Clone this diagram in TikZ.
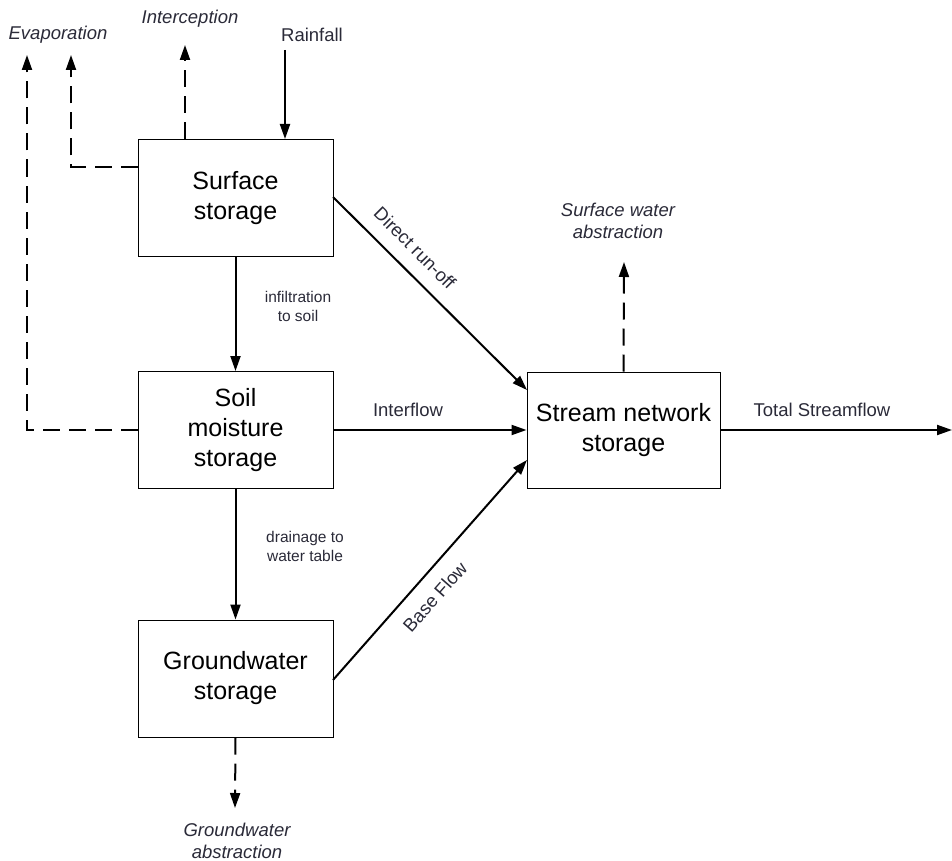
\documentclass[tikz,border=0pt]{standalone}
\usepackage{fontspec}
\setmainfont{Liberation Sans}
\usetikzlibrary{arrows.meta}
\definecolor{txt}{HTML}{2A2A38}
\begin{document}
\begin{tikzpicture}[x=1pt,y=-1pt,
  box/.style={draw,line width=1pt,minimum width=195pt,minimum height=117pt,inner sep=0pt,align=center,font=\fontsize{25}{30}\selectfont},
  flow/.style={line width=2pt,-{Triangle[length=15pt,width=10pt]}},
  dflow/.style={flow,dash pattern=on 17pt off 9pt},
  lbl/.style={text=txt,font=\fontsize{18.5}{22}\selectfont,align=center,inner sep=0pt},
  ilbl/.style={lbl,font=\fontsize{18.5}{22}\selectfont\itshape},
  slbl/.style={lbl,font=\fontsize{15.5}{19}\selectfont}]
\useasboundingbox (0,0) rectangle (952,861);
\node[box] (surf) at (235.5,198) {Surface\\storage};
\node[box] (soil) at (235.5,430) {Soil\\moisture\\storage};
\node[box] (gw) at (235.5,678.5) {Groundwater\\storage};
\node[box,minimum width=193pt,minimum height=116pt] (stream) at (623.5,430) {Stream network\\storage};
% labels
\node[ilbl] (evap) at (58,35) {Evaporation};
\node[ilbl] (inter) at (190,19) {Interception};
\node[lbl] (rain) at (312,35) {Rainfall};
\node[ilbl] (swa) at (618,221) {Surface water\\abstraction};
\node[ilbl] (gwa) at (237,841) {Groundwater\\abstraction};
\node[lbl] (total) at (822,410) {Total Streamflow};
\node[lbl] (interflow) at (408,410) {Interflow};
\node[slbl] (infil) at (298,306) {infiltration\\to soil};
\node[slbl] (drain) at (305,546) {drainage to\\water table};
\node[lbl,rotate=-45] (dro) at (415,248) {Direct run-off};
\node[lbl,rotate=48.6] (bf) at (435,597) {Base Flow};
% coordinates
\coordinate (rainS) at (285,50);
\coordinate (interE) at (185,45);
\coordinate (evE1) at (71,55);
\coordinate (evE2) at (27,55);
\coordinate (swaE) at (624,262);
\coordinate (gwaE) at (235,808);
\coordinate (outE) at (952,430);
% connectors
\draw[flow] (rainS) -- (285,139);
\draw[dflow] (185,139) -- (interE);
\draw[dflow] (surf.west |- 0,167) -- (71,167) -- (evE1);
\draw[dflow] (soil.west) -- (27,430) -- (evE2);
\draw[flow] (surf.south) -- (soil.north);
\draw[flow] (soil.south) -- (gw.north);
\draw[flow] (333,197) -- (527,390);
\draw[flow] (soil.east) -- (stream.west);
\draw[flow] (333,680) -- (527,460);
\draw[dflow] (stream.north) -- (swaE);
\draw[dflow] (gw.south) -- (gwaE);
\draw[flow] (stream.east) -- (outE);
\end{tikzpicture}
\end{document}
